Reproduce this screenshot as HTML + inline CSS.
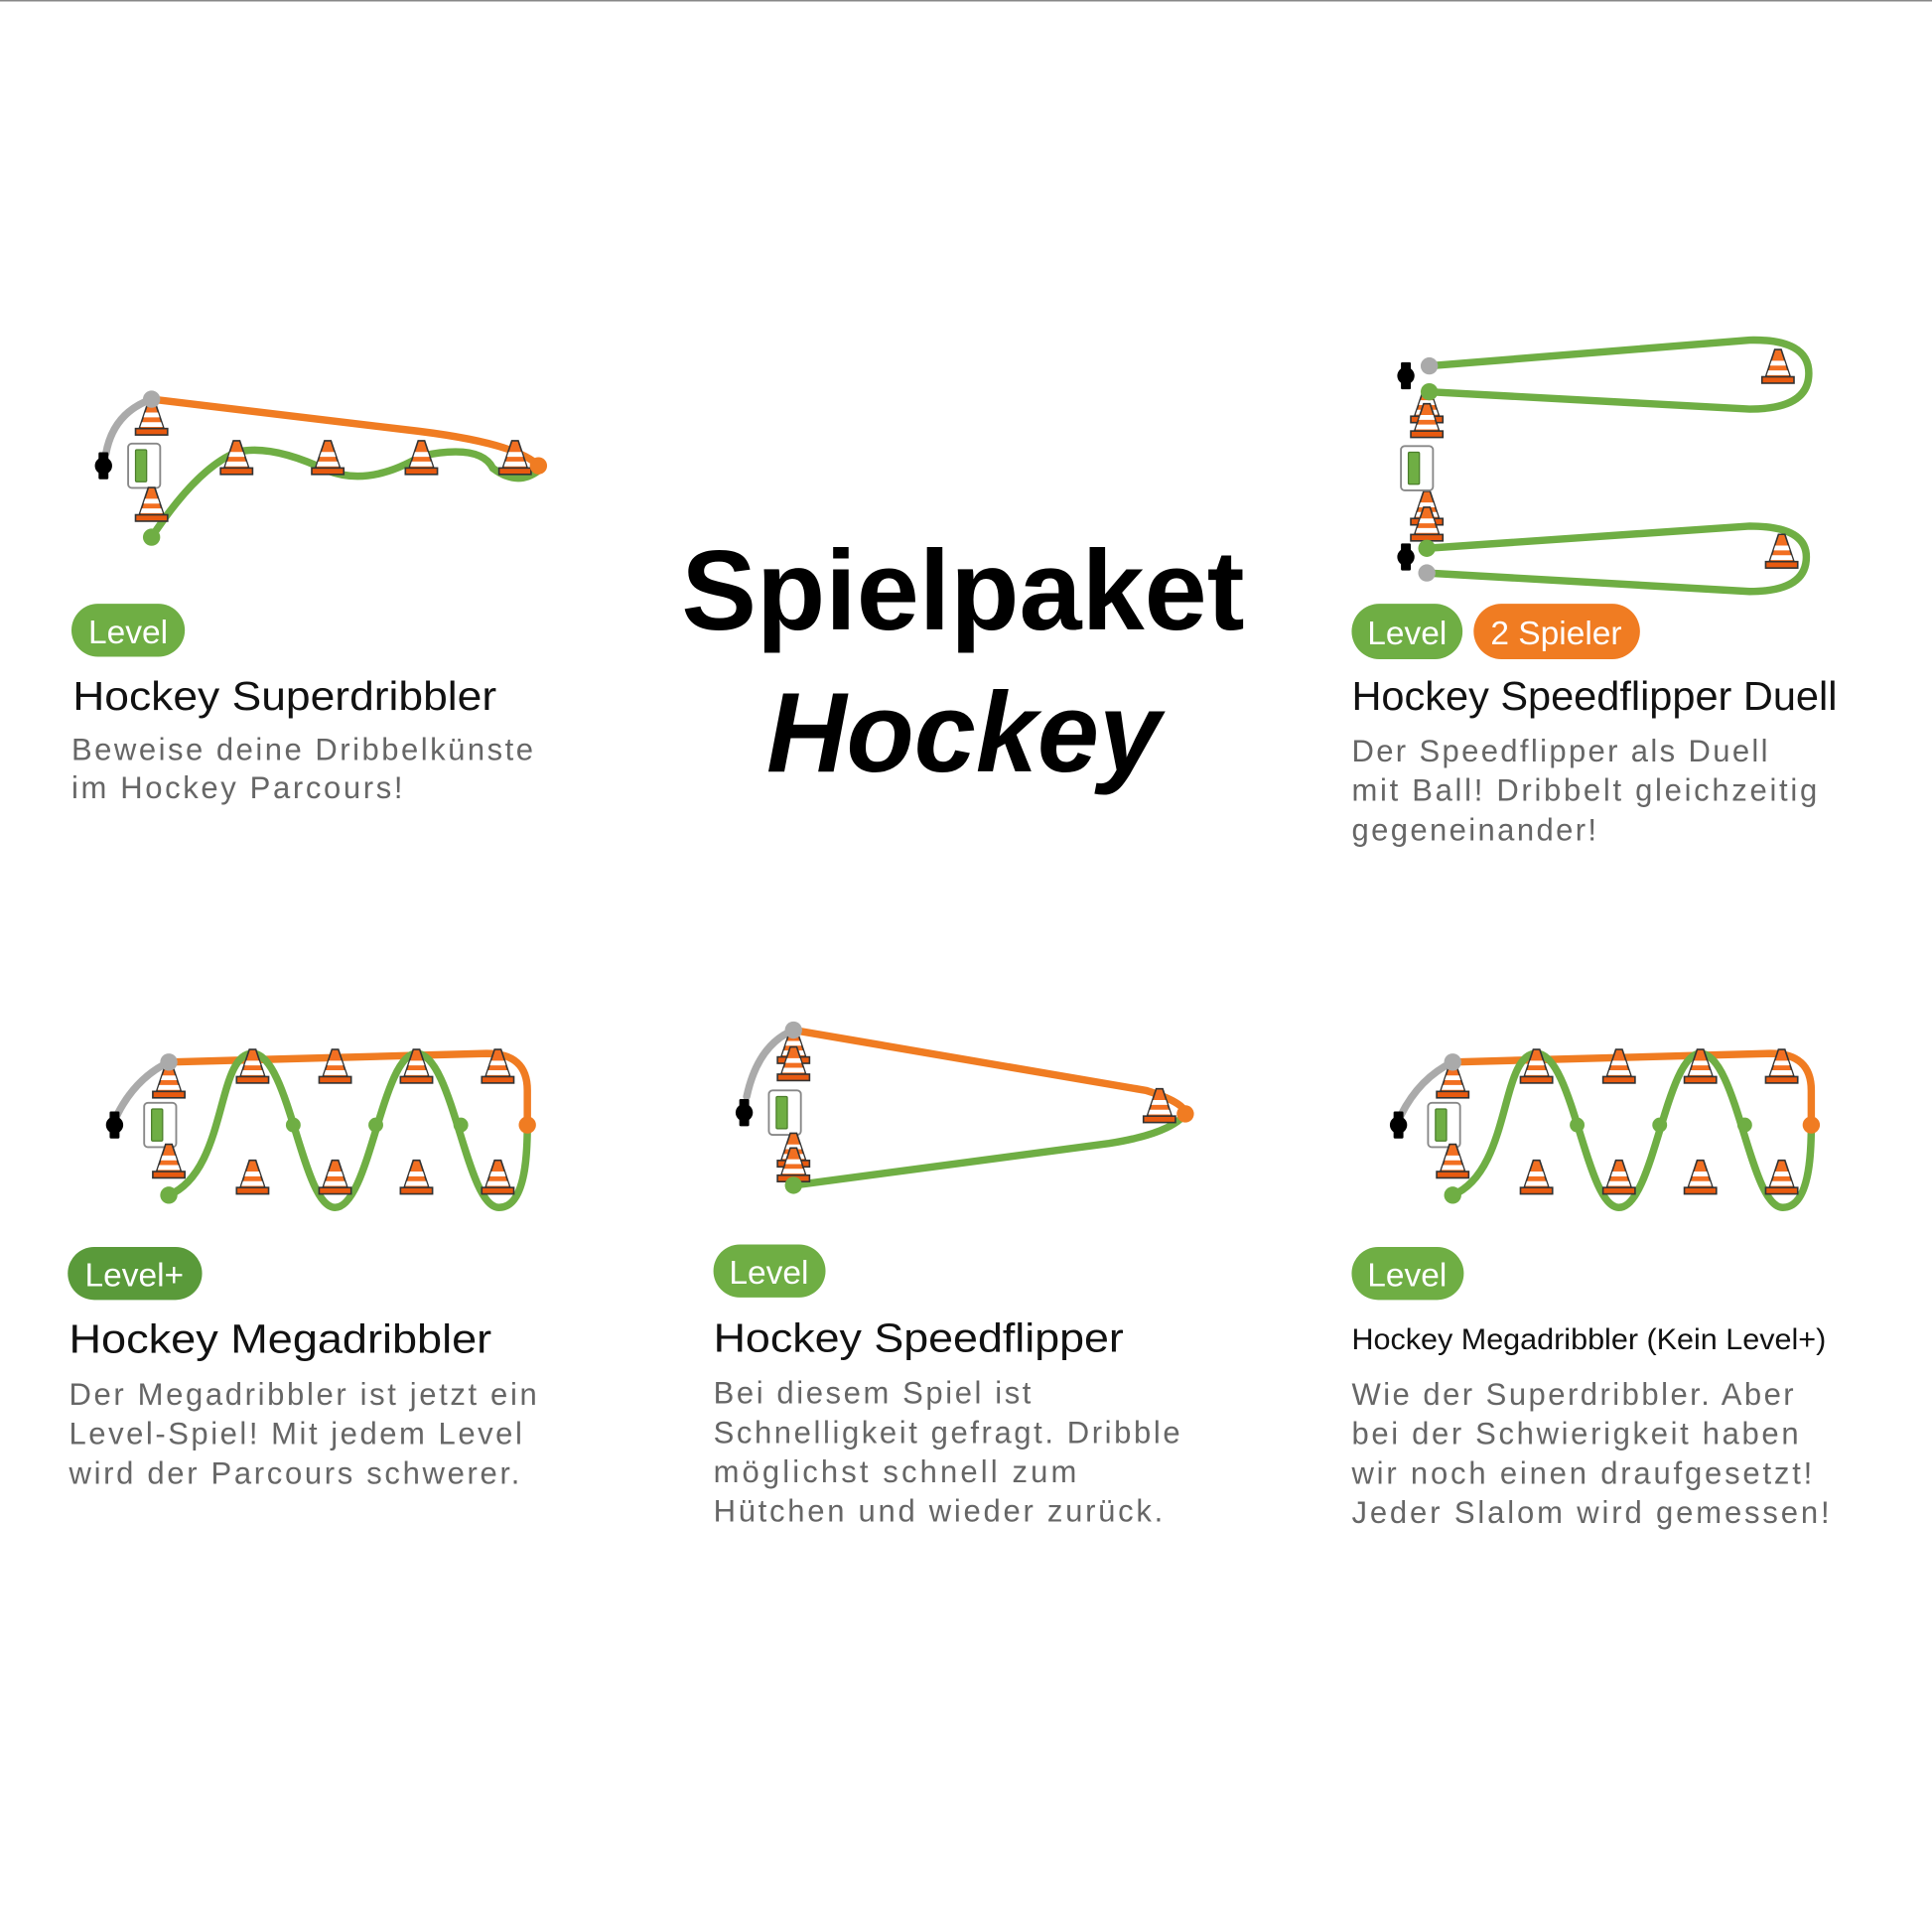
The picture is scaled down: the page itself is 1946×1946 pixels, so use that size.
<!DOCTYPE html>
<html><head><meta charset="utf-8"><style>
html,body{margin:0;padding:0;background:#fff;}
svg{display:block;}
text{font-family:"Liberation Sans",sans-serif;}
.t{font-size:33px;fill:#111;}
.d{font-size:25px;fill:#666;letter-spacing:1.3px;}
.b{font-size:27px;fill:#fff;}
</style></head><body>
<svg width="1946" height="1946" viewBox="0 0 1568 1568" xmlns="http://www.w3.org/2000/svg">
<defs>
<g id="cone" transform="scale(1.3)">
<path d="M-2,-11 L2,-11 L8,7 L-8,7 Z" fill="#f26f21" stroke="#333" stroke-width="1"/>
<rect x="-10" y="6" width="20" height="4" fill="#e85a10" stroke="#333" stroke-width="1"/>
<path d="M-4,-4 L4,-4 L5,-1 L-5,-1 Z M-6,2 L6,2 L7,5 L-7,5 Z" fill="#fff"/>
</g>
<g id="watch">
<rect x="-4" y="-11" width="8" height="22" rx="1" fill="#000"/>
<circle r="7" fill="#000"/>
</g>
<g id="phone">
<rect x="-13" y="-18" width="26" height="36" rx="3" fill="#fff" stroke="#888" stroke-width="1.5"/>
<rect x="-7" y="-13" width="9" height="26" rx="1" fill="#6fae44" stroke="#4a7d2a" stroke-width="1"/>
</g>
</defs>
<line x1="0" y1="0.5" x2="1568" y2="0.5" stroke="#888" stroke-width="1.5"/>

<!-- Panel 1 -->
<g fill="none" stroke-width="6" stroke-linecap="round">
<path d="M86,368 Q92,335 123,324" stroke="#aaa"/>
<path d="M123,324 L340,350 Q420,360 437,378" stroke="#f07c22"/>
<path d="M123,436 Q160,380 192,367 Q220,360 266,382 Q300,395 342,370 Q390,360 400,380 Q420,395 437,382" stroke="#6fae44"/>
</g>
<use href="#watch" x="84" y="378"/>
<use href="#phone" x="117" y="378"/>
<use href="#cone" x="123" y="340"/><use href="#cone" x="123" y="410"/>
<use href="#cone" x="192" y="372"/><use href="#cone" x="266" y="372"/><use href="#cone" x="342" y="372"/><use href="#cone" x="418" y="372"/>
<circle cx="123" cy="324" r="7" fill="#aaa"/><circle cx="437" cy="378" r="7" fill="#f07c22"/><circle cx="123" cy="436" r="7" fill="#6fae44"/>
<rect x="58" y="490" width="92" height="43" rx="21.5" fill="#6fae44"/>
<text class="b" x="104" y="522" text-anchor="middle">Level</text>
<text class="t" x="59" y="576" textLength="344" lengthAdjust="spacingAndGlyphs">Hockey Superdribbler</text>
<text class="d" x="58" y="617" textLength="376">Beweise deine Dribbelkünste</text>
<text class="d" x="58" y="648" textLength="270">im Hockey Parcours!</text>

<!-- Center -->
<text x="553" y="511" font-size="92" font-weight="bold" fill="#000" textLength="457" lengthAdjust="spacingAndGlyphs">Spielpaket</text>
<text x="622" y="626" font-size="92" font-weight="bold" font-style="italic" fill="#000" textLength="320" lengthAdjust="spacingAndGlyphs">Hockey</text>

<!-- Panel 3 -->
<g fill="none" stroke-width="6" stroke-linecap="round" stroke="#6fae44">
<path d="M1160,297 L1420,276 Q1468,275 1468,303 Q1468,332 1420,332 L1160,318"/>
<path d="M1158,445 L1420,427 Q1466,427 1466,452 Q1466,480 1420,480 L1158,465"/>
</g>
<use href="#watch" x="1141" y="305"/><use href="#watch" x="1141" y="452"/>
<use href="#cone" x="1158" y="330"/><use href="#cone" x="1158" y="342"/>
<use href="#cone" x="1158" y="413"/><use href="#cone" x="1158" y="426"/>
<circle cx="1160" cy="297" r="7" fill="#aaa"/><circle cx="1160" cy="318" r="7" fill="#6fae44"/>
<circle cx="1158" cy="445" r="7" fill="#6fae44"/><circle cx="1158" cy="465" r="7" fill="#aaa"/>
<use href="#phone" x="1150" y="380"/>
<use href="#cone" x="1443" y="298"/><use href="#cone" x="1446" y="448"/>
<rect x="1097" y="490" width="90" height="45" rx="22.5" fill="#6fae44"/>
<text class="b" x="1142" y="523" text-anchor="middle">Level</text>
<rect x="1196" y="490" width="135" height="45" rx="22.5" fill="#f07c22"/>
<text class="b" x="1263" y="523" text-anchor="middle">2 Spieler</text>
<text class="t" x="1097" y="576" textLength="394" lengthAdjust="spacingAndGlyphs">Hockey Speedflipper Duell</text>
<text class="d" x="1097" y="618" textLength="339">Der Speedflipper als Duell</text>
<text class="d" x="1097" y="650" textLength="379">mit Ball! Dribbelt gleichzeitig</text>
<text class="d" x="1097" y="682" textLength="200">gegeneinander!</text>

<!-- Panel 4 -->
<g id="mega">
<g fill="none" stroke-width="6" stroke-linecap="round">
<path d="M95,905 Q110,875 137,862" stroke="#aaa"/>
<path d="M137,862 L395,855 Q428,855 428,885 L428,913" stroke="#f07c22"/>
<path d="M137,970 C185,950 175,855 205,855 C235,855 245,980 272,980 C300,980 310,855 338,855 C368,855 378,980 405,980 C428,980 428,930 428,913" stroke="#6fae44"/>
</g>
<use href="#watch" x="93" y="913"/>
<use href="#phone" x="130" y="913"/>
<use href="#cone" x="137" y="878"/><use href="#cone" x="205" y="866"/><use href="#cone" x="272" y="866"/><use href="#cone" x="338" y="866"/><use href="#cone" x="404" y="866"/>
<use href="#cone" x="137" y="943"/><use href="#cone" x="205" y="956"/><use href="#cone" x="272" y="956"/><use href="#cone" x="338" y="956"/><use href="#cone" x="404" y="956"/>
<circle cx="137" cy="862" r="7" fill="#aaa"/><circle cx="428" cy="913" r="7" fill="#f07c22"/>
<circle cx="238" cy="913" r="6" fill="#6fae44"/><circle cx="305" cy="913" r="6" fill="#6fae44"/><circle cx="374" cy="913" r="6" fill="#6fae44"/>
<circle cx="137" cy="970" r="7" fill="#6fae44"/>
</g>
<rect x="55" y="1012" width="109" height="43" rx="21.5" fill="#5a9a3a"/>
<text class="b" x="109" y="1044" text-anchor="middle">Level+</text>
<text class="t" x="56" y="1098" textLength="343" lengthAdjust="spacingAndGlyphs">Hockey Megadribbler</text>
<text class="d" x="56" y="1140" textLength="381">Der Megadribbler ist jetzt ein</text>
<text class="d" x="56" y="1172" textLength="369">Level-Spiel! Mit jedem Level</text>
<text class="d" x="56" y="1204" textLength="367">wird der Parcours schwerer.</text>

<!-- Panel 5 -->
<g fill="none" stroke-width="6" stroke-linecap="round">
<path d="M606,890 Q615,848 644,836" stroke="#aaa"/>
<path d="M644,836 L930,885 Q962,895 962,904" stroke="#f07c22"/>
<path d="M962,904 Q950,920 900,928 L644,962" stroke="#6fae44"/>
</g>
<use href="#watch" x="604" y="903"/>
<use href="#phone" x="637" y="903"/>
<use href="#cone" x="644" y="850"/><use href="#cone" x="644" y="864"/>
<use href="#cone" x="644" y="934"/><use href="#cone" x="644" y="946"/>
<use href="#cone" x="941" y="898"/>
<circle cx="644" cy="836" r="7" fill="#aaa"/><circle cx="962" cy="904" r="7" fill="#f07c22"/><circle cx="644" cy="962" r="7" fill="#6fae44"/>
<rect x="579" y="1010" width="91" height="43" rx="21.5" fill="#6fae44"/>
<text class="b" x="624" y="1042" text-anchor="middle">Level</text>
<text class="t" x="579" y="1097" textLength="333" lengthAdjust="spacingAndGlyphs">Hockey Speedflipper</text>
<text class="d" x="579" y="1139" textLength="259">Bei diesem Spiel ist</text>
<text class="d" x="579" y="1171" textLength="380">Schnelligkeit gefragt. Dribble</text>
<text class="d" x="579" y="1203" textLength="296">möglichst schnell zum</text>
<text class="d" x="579" y="1235" textLength="366">Hütchen und wieder zurück.</text>

<!-- Panel 6 -->
<use href="#mega" x="1042" y="0"/>
<rect x="1097" y="1012" width="91" height="43" rx="21.5" fill="#6fae44"/>
<text class="b" x="1142" y="1044" text-anchor="middle">Level</text>
<text x="1097" y="1095" font-size="24" fill="#111" textLength="385" lengthAdjust="spacingAndGlyphs">Hockey Megadribbler (Kein Level+)</text>
<text class="d" x="1097" y="1140" textLength="360">Wie der Superdribbler. Aber</text>
<text class="d" x="1097" y="1172" textLength="364">bei der Schwierigkeit haben</text>
<text class="d" x="1097" y="1204" textLength="375">wir noch einen draufgesetzt!</text>
<text class="d" x="1097" y="1236" textLength="389">Jeder Slalom wird gemessen!</text>
</svg>
</body></html>
